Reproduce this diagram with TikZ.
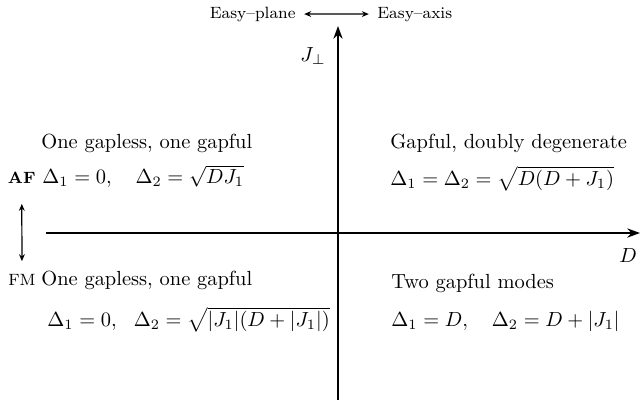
\documentclass[tikz,border=0pt]{standalone}
\usepackage{amsmath,amssymb}
\usetikzlibrary{arrows.meta, positioning}
\tikzset{
  axis/.style={-{Stealth[length=2.2mm, width=1.6mm]}, thick},
  hint/.style={{Stealth[length=1.2mm, width=1mm]}-{Stealth[length=1.2mm, width=1mm]}, semithick},
  regime/.style={anchor=base west, inner sep=0pt},
  phase/.style={font=\footnotesize, inner sep=0pt}
}
\begin{document}
\begin{tikzpicture}[x=0.0172cm, y=-0.0172cm]
    \useasboundingbox (0,0) rectangle (642,407);

    % axes
    \coordinate (dmin) at (46,233);
    \coordinate (dmax) at (640,233);
    \coordinate (jmin) at (338,400);
    \coordinate (jmax) at (338,26);
    \draw[axis] (dmin) -- (dmax);
    \draw[axis] (jmin) -- (jmax);
    \node[anchor=base] (dlab) at (628,262) {$D$};
    \node (jlab) at (313,56) {$J_\perp$};

    % anisotropy
    \node[phase, anchor=base east] (plane) at (296,18) {Easy--plane};
    \node[phase, anchor=base west] (easy) at (377,18) {Easy--axis};
    \draw[hint, shorten <=4pt, shorten >=4pt] (plane) -- (easy);

    % sign of exchange
    \node[phase, anchor=base east] (af) at (36,183) {\bfseries AF};
    \node[phase, anchor=base east] (fm) at (36,285) {FM};
    \draw[hint, shorten <=10pt, shorten >=6pt] (af.south) -- (fm.north);

    % four regions
    \node[regime] (afmode) at (41,148) {One gapless, one gapful};
    \node[regime] (afgap) at (42,183) {$\Delta_1=0,\quad \Delta_2=\sqrt{DJ_1}$};
    \node[regime] (eamode) at (390,148) {Gapful, doubly degenerate};
    \node[regime] (eagap) at (390,185) {$\Delta_1=\Delta_2=\sqrt{D(D+J_1)}$};
    \node[regime] (fmmode) at (41,285) {One gapless, one gapful};
    \node[regime] (fmgap) at (47,326) {$\Delta_1=0,\ \ \Delta_2=\sqrt{|J_1|(D+|J_1|)}$};
    \node[regime] (twomode) at (391,288) {Two gapful modes};
    \node[regime] (twogap) at (391,326) {$\Delta_1=D,\quad \Delta_2=D+|J_1|$};
\end{tikzpicture}
\end{document}
